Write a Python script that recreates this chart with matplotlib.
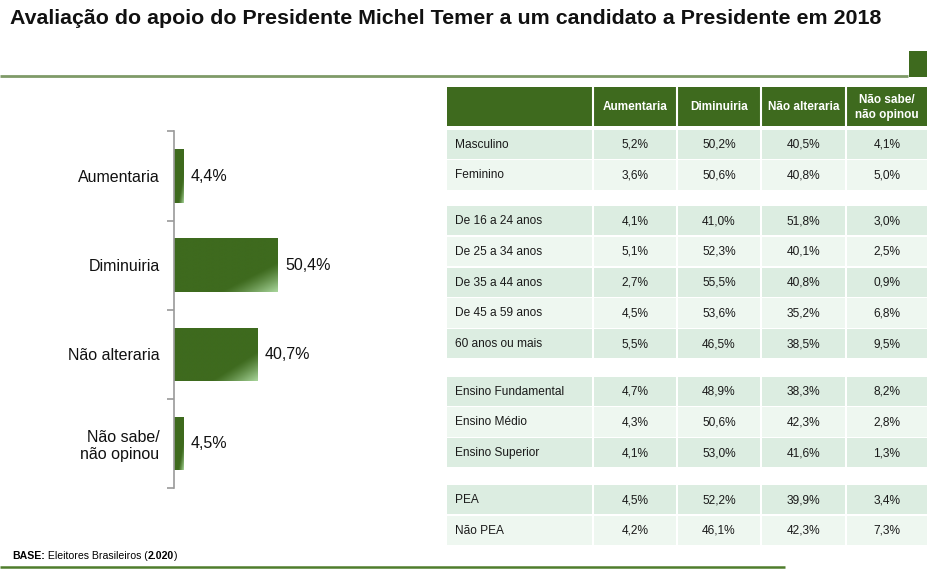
import numpy as np
import matplotlib
matplotlib.use("Agg")
import matplotlib.pyplot as plt
from matplotlib.patches import Rectangle
from matplotlib.colors import to_rgb

plt.rcParams['font.family'] = ['Liberation Sans', 'DejaVu Sans']

# ---------------- data ----------------
title = "Avaliação do apoio do Presidente Michel Temer a um candidato a Presidente em 2018"
bar_categories = ["Aumentaria", "Diminuiria", "Não alteraria", "Não sabe/\nnão opinou"]
bar_values = [4.4, 50.4, 40.7, 4.5]

table_columns = ["Aumentaria", "Diminuiria", "Não alteraria", "Não sabe/\nnão opinou"]
group_sexo_labels = ["Masculino", "Feminino"]
group_sexo_values = [[5.2, 50.2, 40.5, 4.1],
                     [3.6, 50.6, 40.8, 5.0]]
group_idade_labels = ["De 16 a 24 anos", "De 25 a 34 anos", "De 35 a 44 anos",
                      "De 45 a 59 anos", "60 anos ou mais"]
group_idade_values = [[4.1, 41.0, 51.8, 3.0],
                      [5.1, 52.3, 40.1, 2.5],
                      [2.7, 55.5, 40.8, 0.9],
                      [4.5, 53.6, 35.2, 6.8],
                      [5.5, 46.5, 38.5, 9.5]]
group_ensino_labels = ["Ensino Fundamental", "Ensino Médio", "Ensino Superior"]
group_ensino_values = [[4.7, 48.9, 38.3, 8.2],
                       [4.3, 50.6, 42.3, 2.8],
                       [4.1, 53.0, 41.6, 1.3]]
group_pea_labels = ["PEA", "Não PEA"]
group_pea_values = [[4.5, 52.2, 39.9, 3.4],
                    [4.2, 46.1, 42.3, 7.3]]
footnote_bold1 = "BASE:"
footnote_text = " Eleitores Brasileiros ("
footnote_bold2 = "2.020"

def fmt(v):
    return f"{v:.1f}%".replace(".", ",")

# ---------------- style ----------------
W, H = 927, 573
GREEN = "#3e6a1e"
LIGHT = "#a9d69c"
ROW_DARK = "#dcede1"
ROW_LIGHT = "#eef7f0"
AXIS_GRAY = "#9a9a9a"

fig = plt.figure(figsize=(W / 100, H / 100), dpi=100)
fig.patch.set_facecolor("white")

# overlay axes in pixel coordinates
ov = fig.add_axes([0, 0, 1, 1])
ov.set_xlim(0, W)
ov.set_ylim(H, 0)
ov.axis("off")

# title & decorations
ov.text(10, 18.5, title, fontsize=15.4, fontweight="bold", ha="left", va="center", color="#111111")
ov.plot([0, 908], [76, 76], color="#7f9a68", lw=2, solid_capstyle="butt")
ov.add_patch(Rectangle((909, 51), 18, 26, color=GREEN, lw=0))
ov.plot([0, 785], [567, 567], color="#4f7d2c", lw=1.8, solid_capstyle="butt")

# footnote
t1 = ov.text(12, 556, footnote_bold1, fontsize=7.6, fontweight="bold", ha="left", va="center")
fig.canvas.draw()
r = fig.canvas.get_renderer()
def right_px(t):
    bb = t.get_window_extent(renderer=r)
    return bb.x1
x = right_px(t1)
t2 = ov.text(x, 556, footnote_text, fontsize=7.6, ha="left", va="center")
x = right_px(t2)
t3 = ov.text(x, 556, footnote_bold2, fontsize=7.6, fontweight="bold", ha="left", va="center")
x = right_px(t3)
ov.text(x, 556, ")", fontsize=7.6, ha="left", va="center")

# ---------------- table ----------------
col_edges = [(447, 592), (594, 676), (678, 760), (762, 845), (847, 927)]
header_top, header_bot = 87, 126
ov.add_patch(Rectangle((447, header_top), 927 - 447, header_bot - header_top, color=GREEN, lw=0))
for (x0, x1) in col_edges[1:]:
    ov.plot([x0 - 1, x0 - 1], [header_top, header_bot], color="white", lw=1.5)
for (x0, x1), name in zip(col_edges[1:], table_columns):
    ov.text((x0 + x1) / 2, (header_top + header_bot) / 2 + 1, name, fontsize=8.5,
            fontweight="bold", color="white", ha="center", va="center", linespacing=1.25)

groups = [(group_sexo_labels, group_sexo_values, 129.5),
          (group_idade_labels, group_idade_values, 206),
          (group_ensino_labels, group_ensino_values, 376.5),
          (group_pea_labels, group_pea_values, 485)]
pitch = 30.8
for labels, values, y0 in groups:
    for i, (lab, vals) in enumerate(zip(labels, values)):
        top = y0 + i * pitch
        bot = top + pitch - 1.6
        color = ROW_DARK if i % 2 == 0 else ROW_LIGHT
        for (x0, x1) in col_edges:
            ov.add_patch(Rectangle((x0, top), x1 - x0, bot - top, color=color, lw=0))
        yc = (top + bot) / 2 + 0.5
        ov.text(455, yc, lab, fontsize=8.6, ha="left", va="center", color="#1a1a1a")
        for (x0, x1), v in zip(col_edges[1:], vals):
            ov.text((x0 + x1) / 2, yc, fmt(v), fontsize=8.6, ha="center", va="center", color="#1a1a1a")

# ---------------- bar chart ----------------
ax_left, ax_right = 173.5, 379.5
ax_top, ax_bot = 131.5, 488
ax = fig.add_axes([ax_left / W, (H - ax_bot) / H, (ax_right - ax_left) / W, (ax_bot - ax_top) / H])
ax.set_xlim(0, 100)
ax.set_ylim(len(bar_categories) - 0.5, -0.5)
ax.patch.set_alpha(0)
for s in ["top", "right", "bottom"]:
    ax.spines[s].set_visible(False)
ax.spines["left"].set_color(AXIS_GRAY)
ax.spines["left"].set_linewidth(1.2)
ax.set_xticks([])
ax.set_yticks(np.arange(len(bar_categories) + 1) - 0.5)
ax.set_yticklabels([])
ax.tick_params(axis="y", which="major", length=5, color=AXIS_GRAY, width=1.2)
ax.set_yticks(np.arange(len(bar_categories)), minor=True)
ax.set_yticklabels(bar_categories, minor=True, fontsize=11.5, color="#111111")
ax.tick_params(axis="y", which="minor", length=0, pad=10)
for lbl in ax.get_yticklabels(minor=True):
    lbl.set_horizontalalignment("right")
    lbl.set_multialignment("right")

bars = ax.barh(np.arange(len(bar_categories)), bar_values, height=0.6, color=GREEN, lw=0)

# gradient fill (dark green with lighter bottom-right corner, along the diagonal)
dark = np.array(to_rgb(GREEN))
light = np.array(to_rgb(LIGHT))
for b in bars:
    bx, by, bw, bh = b.get_x(), b.get_y(), b.get_width(), b.get_height()
    u = np.linspace(0, 1, 120)
    v = np.linspace(0, 1, 60)
    UU, VV = np.meshgrid(u, v)
    t = np.clip((UU + VV - 1.45) / 0.55, 0, 1) ** 1.2
    t = t[..., None]
    img = dark * (1 - t) + light * t
    im = ax.imshow(img, extent=(bx, bx + bw, by + bh, by), aspect="auto",
                   interpolation="bilinear", zorder=2)
    im.set_clip_path(b)

for i, v in enumerate(bar_values):
    ax.annotate(fmt(v), xy=(v, i), xytext=(5.5, 0), textcoords="offset points",
                ha="left", va="center", fontsize=11.5, color="#111111")

ax.set_xlim(0, 100)
ax.set_ylim(len(bar_categories) - 0.5, -0.5)

fig.savefig("out.png", dpi=100, facecolor="white")
